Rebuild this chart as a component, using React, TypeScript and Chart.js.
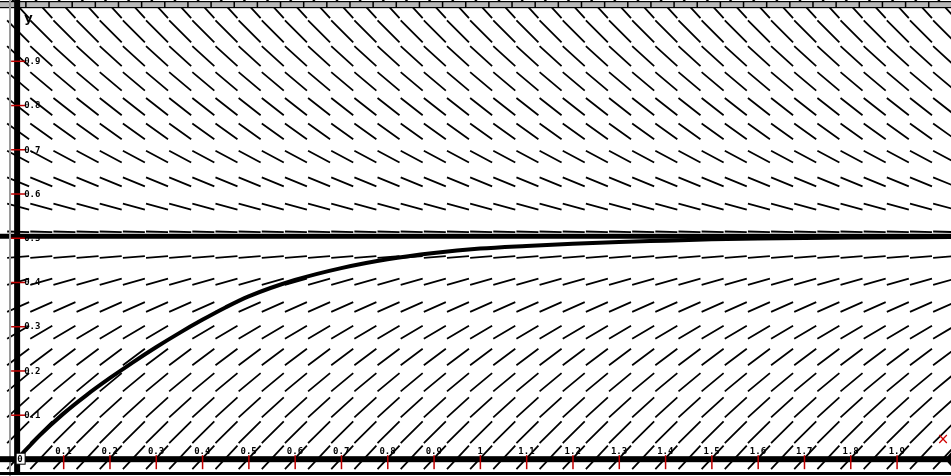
import React, { useEffect, useRef } from "react";
import { Chart, registerables } from "chart.js";

Chart.register(...registerables);

// Slope-field grid: column x positions and row y positions with their slopes
const fieldX = [0, 0.05, 0.1, 0.15, 0.2, 0.25, 0.3, 0.35, 0.4, 0.45, 0.5, 0.55, 0.6, 0.65, 0.7, 0.75, 0.8, 0.85, 0.9, 0.95, 1.0, 1.05, 1.1, 1.15, 1.2, 1.25, 1.3, 1.35, 1.4, 1.45, 1.5, 1.55, 1.6, 1.65, 1.7, 1.75, 1.8, 1.85, 1.9, 1.95, 2.0];
const fieldRowsY = [0.004, 0.061, 0.117, 0.174, 0.231, 0.287, 0.344, 0.401, 0.457, 0.514, 0.571, 0.627, 0.684, 0.741, 0.797, 0.854, 0.911, 0.967, 1.024];
const fieldRowSlopes = [1.12, 1.03, 0.95, 0.87, 0.78, 0.62, 0.46, 0.3, 0.09, -0.03, -0.28, -0.43, -0.56, -0.74, -0.82, -0.88, -0.95, -1.05, -1.14];

// Solution curve through the origin
const curveX = [0, 0.05, 0.1, 0.15, 0.2, 0.25, 0.3, 0.35, 0.4, 0.45, 0.5, 0.6, 0.7, 0.8, 0.9, 1.0, 1.1, 1.2, 1.3, 1.4, 1.5, 1.6, 1.8, 2.02];
const curveY = [0, 0.055, 0.103, 0.145, 0.183, 0.219, 0.253, 0.285, 0.315, 0.343, 0.368, 0.405, 0.432, 0.452, 0.466, 0.476, 0.482, 0.487, 0.491, 0.494, 0.497, 0.499, 0.501, 0.502];

// Equilibrium solution
const equilibriumY = 0.504;

// Tick labels
const xTicks = [0.1, 0.2, 0.3, 0.4, 0.5, 0.6, 0.7, 0.8, 0.9, 1, 1.1, 1.2, 1.3, 1.4, 1.5, 1.6, 1.7, 1.8, 1.9];
const xTickLabels = ["0.1", "0.2", "0.3", "0.4", "0.5", "0.6", "0.7", "0.8", "0.9", "1", "1.1", "1.2", "1.3", "1.4", "1.5", "1.6", "1.7", "1.8", "1.9"];
const yTicks = [0.1, 0.2, 0.3, 0.4, 0.5, 0.6, 0.7, 0.8, 0.9];
const yTickLabels = ["0.1", "0.2", "0.3", "0.4", "0.5", "0.6", "0.7", "0.8", "0.9"];

const X_MIN = -0.037;
const X_MAX = 2.017;
const Y_MIN = -0.038;
const Y_MAX = 1.038;

const fieldPlugin = {
  id: "slopeField",
  beforeDatasetsDraw(chart: any) {
    const { ctx, scales } = chart;
    const xs = scales.x;
    const ys = scales.y;
    const pxPerX = xs.getPixelForValue(1) - xs.getPixelForValue(0);
    const pxPerY = ys.getPixelForValue(0) - ys.getPixelForValue(1);
    const HALF_DX = 11;
    ctx.save();
    ctx.strokeStyle = "#000";
    ctx.lineWidth = 1.8;
    ctx.lineCap = "butt";
    ctx.beginPath();
    fieldRowsY.forEach((yv, i) => {
      const m = (fieldRowSlopes[i] * pxPerY) / pxPerX;
      const hy = m * HALF_DX;
      const cy = ys.getPixelForValue(yv);
      fieldX.forEach((xv) => {
        const cx = xs.getPixelForValue(xv) + 1;
        ctx.moveTo(cx - HALF_DX, cy + hy);
        ctx.lineTo(cx + HALF_DX, cy - hy);
      });
    });
    ctx.stroke();
    ctx.restore();
  },
  afterDatasetsDraw(chart: any) {
    const { ctx, scales, width, height } = chart;
    const xs = scales.x;
    const ys = scales.y;
    const x0 = xs.getPixelForValue(0);
    const y0 = ys.getPixelForValue(0);
    ctx.save();
    // top frame band
    ctx.fillStyle = "#b8b8b8";
    ctx.fillRect(0, 2, width, 5);
    ctx.fillStyle = "#000";
    ctx.fillRect(0, 1, width, 1.2);
    ctx.fillRect(0, 7, width, 1.2);
    fieldX.forEach((xv) => {
      const px = xs.getPixelForValue(xv) + 8;
      ctx.fillRect(px, 1, 1.5, 7);
    });
    // left gray line
    ctx.fillStyle = "#9a9a9a";
    ctx.fillRect(9, 0, 2, height);
    // bottom border
    ctx.fillStyle = "#000";
    ctx.fillRect(0, height - 4, width, 3);
    // y axis
    ctx.fillRect(x0 - 3, 0, 6, height - 1);
    // x axis
    ctx.fillRect(0, y0 - 3, width, 6);
    // arrow at right end
    ctx.beginPath();
    ctx.moveTo(width, y0 - 7);
    ctx.lineTo(width, y0 + 7);
    ctx.lineTo(width - 6, y0);
    ctx.closePath();
    ctx.fill();

    ctx.font = "bold 9px 'DejaVu Sans Mono', monospace";
    ctx.textBaseline = "alphabetic";
    // x ticks
    xTicks.forEach((xv, i) => {
      const px = xs.getPixelForValue(xv);
      ctx.fillStyle = "#c00000";
      ctx.fillRect(px - 0.5, y0 - 4, 1.5, 14);
      ctx.fillStyle = "#000";
      ctx.textAlign = "center";
      ctx.fillText(xTickLabels[i], px, y0 - 5);
    });
    // y ticks
    yTicks.forEach((yv, i) => {
      const py = ys.getPixelForValue(yv);
      ctx.fillStyle = "#c00000";
      ctx.fillRect(x0 - 6, py - 0.5, 14, 1.5);
      ctx.fillStyle = "#000";
      ctx.textAlign = "left";
      ctx.fillText(yTickLabels[i], x0 + 7, py + 3);
    });
    // origin label
    ctx.fillStyle = "#fff";
    ctx.fillRect(x0 - 1, y0 - 6, 9, 11);
    ctx.strokeStyle = "#000";
    ctx.lineWidth = 1;
    ctx.strokeRect(x0 - 1, y0 - 6, 9, 11);
    ctx.fillStyle = "#000";
    ctx.textAlign = "left";
    ctx.fillText("0", x0, y0 + 3);
    // axis names
    ctx.font = "bold 13px 'DejaVu Sans', sans-serif";
    ctx.fillText("y", x0 + 7, 22);
    ctx.fillStyle = "#d00000";
    ctx.font = "15px 'DejaVu Sans', sans-serif";
    ctx.textAlign = "center";
    ctx.fillText("\u00d7", xs.getPixelForValue(2.0), ys.getPixelForValue(0.035));
    ctx.restore();
  },
};

export default function App() {
  const ref = useRef<HTMLCanvasElement>(null);
  useEffect(() => {
    document.body.style.margin = "0";
    const canvas = ref.current;
    if (!canvas) return;
    const chart = new Chart(canvas, {
      type: "scatter",
      data: {
        datasets: [
          {
            label: "equilibrium",
            data: [
              { x: X_MIN, y: equilibriumY },
              { x: X_MAX, y: equilibriumY },
            ],
            showLine: true,
            borderColor: "#000",
            borderWidth: 5,
            pointRadius: 0,
          },
          {
            label: "solution",
            data: curveX.map((x, i) => ({ x, y: curveY[i] })),
            showLine: true,
            borderColor: "#000",
            borderWidth: 4,
            pointRadius: 0,
            cubicInterpolationMode: "monotone",
          },
        ],
      },
      options: {
        responsive: false,
        animation: false,
        layout: { padding: 0 },
        plugins: { legend: { display: false }, tooltip: { enabled: false } },
        scales: {
          x: { type: "linear", min: X_MIN, max: X_MAX, display: false },
          y: { type: "linear", min: Y_MIN, max: Y_MAX, display: false },
        },
      },
      plugins: [fieldPlugin],
    });
    return () => chart.destroy();
  }, []);
  return (
    <div style={{ width: 951, height: 476, background: "#fff" }}>
      <canvas ref={ref} width={951} height={476} style={{ display: "block" }} />
    </div>
  );
}
